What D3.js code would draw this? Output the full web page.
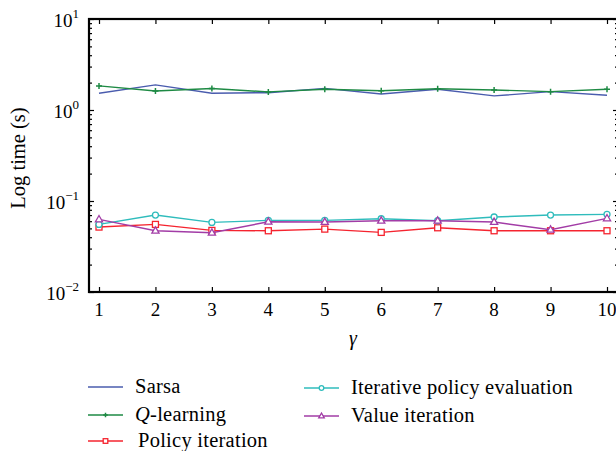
<!DOCTYPE html>
<html>
<head>
<meta charset="utf-8">
<script src="https://cdn.jsdelivr.net/npm/d3@7"></script>
<style>
body { margin: 0; background: white; }
</style>
</head>
<body>
<div id="canvas"></div>
<script>
"use strict"

let drawingWidth = 616;
let drawingHeight = 451;

// data
let gammas = [1, 2, 3, 4, 5, 6, 7, 8, 9, 10];
let sarsa = [1.53, 1.89, 1.53, 1.55, 1.73, 1.50, 1.69, 1.43, 1.59, 1.45];
let qLearning = [1.84, 1.62, 1.72, 1.58, 1.69, 1.63, 1.71, 1.66, 1.59, 1.69];
let policyIteration = [0.0517, 0.0553, 0.0475, 0.0471, 0.0491, 0.0452, 0.0508, 0.0471, 0.0471, 0.0471];
let policyEvaluation = [0.0553, 0.0701, 0.0582, 0.0612, 0.0612, 0.0638, 0.0607, 0.0667, 0.0701, 0.0713];
let valueIteration = [0.0628, 0.0471, 0.0448, 0.0591, 0.0587, 0.0607, 0.0607, 0.0587, 0.0483, 0.0644];
let yDecades = [-2, -1, 0, 1];

let series = [
    {name: "Sarsa", values: sarsa, color: "#4a5cae", marker: "none"},
    {name: "Q-learning", values: qLearning, color: "#1e8a44", marker: "plus"},
    {name: "Policy iteration", values: policyIteration, color: "#f5242f", marker: "square"},
    {name: "Iterative policy evaluation", values: policyEvaluation, color: "#2fbcbc", marker: "circle"},
    {name: "Value iteration", values: valueIteration, color: "#a23ca6", marker: "triangle"}
];

let font = "Liberation Serif, Times New Roman, serif";

let plotLeft = 89, plotRight = 618, plotTop = 19, plotBottom = 292;

let x = d3.scaleLinear().domain([1, 10]).range([99, 607]);
let y = d3.scaleLog().domain([0.01, 10]).range([plotBottom, plotTop]);

let drawing = d3.select("#canvas")
    .append("svg")
    .attr("width", drawingWidth)
    .attr("height", drawingHeight)
    .style("font-family", font);

// minor ticks for the log axis
let minorTicks = [];
yDecades.slice(0, 3).forEach(function(d) {
    for (let k = 2; k <= 9; k++) minorTicks.push(k * Math.pow(10, d));
});
let majorTicks = yDecades.map(d => Math.pow(10, d));

// y ticks, left and right, pointing inward
drawing.append("g")
    .attr("transform", "translate(" + plotLeft + ",0)")
    .call(d3.axisLeft(y).tickValues(majorTicks).tickSize(-5).tickFormat(""));
drawing.append("g")
    .attr("transform", "translate(" + plotLeft + ",0)")
    .call(d3.axisLeft(y).tickValues(minorTicks).tickSize(-3).tickFormat(""));
drawing.append("g")
    .attr("transform", "translate(" + plotRight + ",0)")
    .call(d3.axisRight(y).tickValues(majorTicks).tickSize(-5).tickFormat(""));
drawing.append("g")
    .attr("transform", "translate(" + plotRight + ",0)")
    .call(d3.axisRight(y).tickValues(minorTicks).tickSize(-3).tickFormat(""));

// x ticks, bottom and top
drawing.append("g")
    .attr("transform", "translate(0," + plotBottom + ")")
    .call(d3.axisBottom(x).tickValues(gammas).tickSize(-5).tickFormat(""));
drawing.append("g")
    .attr("transform", "translate(0," + plotTop + ")")
    .call(d3.axisTop(x).tickValues(gammas).tickSize(-5).tickFormat(""));

drawing.selectAll(".domain").remove();
drawing.selectAll(".tick line").attr("stroke", "black").attr("stroke-width", 1.2);

// frame
drawing.append("rect")
    .attr("x", plotLeft)
    .attr("y", plotTop)
    .attr("width", plotRight - plotLeft)
    .attr("height", plotBottom - plotTop)
    .attr("fill", "none")
    .attr("stroke", "black")
    .attr("stroke-width", 2.2);

// y tick labels 10^n
let yLabels = drawing.selectAll(".ylab")
    .data(yDecades)
    .enter()
    .append("text")
    .attr("x", 79)
    .attr("y", d => y(Math.pow(10, d)) + 8)
    .attr("text-anchor", "end")
    .attr("font-size", 19)
    .attr("fill", "black");
yLabels.append("tspan").text("10");
yLabels.append("tspan")
    .attr("dy", -9)
    .attr("font-size", 13)
    .text(d => d < 0 ? "\u2212" + (-d) : d);

// x tick labels
drawing.selectAll(".xlab")
    .data(gammas)
    .enter()
    .append("text")
    .attr("x", d => x(d))
    .attr("y", 316)
    .attr("text-anchor", "middle")
    .attr("font-size", 19)
    .attr("fill", "black")
    .text(d => d);

// axis titles
drawing.append("text")
    .attr("transform", "translate(25,158) rotate(-90)")
    .attr("text-anchor", "middle")
    .attr("font-size", 20.5)
    .attr("fill", "black")
    .text("Log time (s)");

drawing.append("text")
    .attr("x", 353)
    .attr("y", 345)
    .attr("text-anchor", "middle")
    .attr("font-size", 20)
    .attr("font-style", "italic")
    .attr("fill", "black")
    .text("\u03b3");

// markers
function drawMarker(g, kind, cx, cy, color, s) {
    if (kind == "plus") {
        g.append("path")
            .attr("d", "M" + (cx - s) + "," + cy + "h" + (2 * s) + "M" + cx + "," + (cy - s) + "v" + (2 * s))
            .attr("stroke", color)
            .attr("stroke-width", 1.5);
    } else if (kind == "square") {
        g.append("rect")
            .attr("x", cx - s)
            .attr("y", cy - s)
            .attr("width", 2 * s)
            .attr("height", 2 * s)
            .attr("fill", "white")
            .attr("stroke", color)
            .attr("stroke-width", 1.3);
    } else if (kind == "circle") {
        g.append("circle")
            .attr("cx", cx)
            .attr("cy", cy)
            .attr("r", s)
            .attr("fill", "white")
            .attr("stroke", color)
            .attr("stroke-width", 1.3);
    } else if (kind == "triangle") {
        g.append("path")
            .attr("d", "M" + cx + "," + (cy - 1.3 * s) + "L" + (cx + 1.2 * s) + "," + (cy + 0.8 * s) + "L" + (cx - 1.2 * s) + "," + (cy + 0.8 * s) + "Z")
            .attr("fill", "white")
            .attr("stroke", color)
            .attr("stroke-width", 1.3);
    }
}

let line = d3.line()
    .x((d, i) => x(gammas[i]))
    .y(d => y(d));

series.forEach(function(s) {
    let g = drawing.append("g");
    g.append("path")
        .attr("d", line(s.values))
        .attr("fill", "none")
        .attr("stroke", s.color)
        .attr("stroke-width", 1.4);
    s.values.forEach(function(v, i) {
        drawMarker(g, s.marker, x(gammas[i]), y(v), s.color, 3);
    });
});

// legend
let legendPos = [[88, 387], [88, 415], [88, 441], [304, 388], [304, 416]];
series.forEach(function(s, i) {
    let lx = legendPos[i][0], ly = legendPos[i][1];
    let g = drawing.append("g");
    g.append("line")
        .attr("x1", lx)
        .attr("x2", lx + 35)
        .attr("y1", ly)
        .attr("y2", ly)
        .attr("stroke", s.color)
        .attr("stroke-width", 1.5);
    drawMarker(g, s.marker, lx + 17.5, ly, s.color, 2.3);
    let t = g.append("text")
        .attr("x", lx + 47 + (s.marker == "square" ? 3 : 0))
        .attr("y", ly + 6)
        .attr("font-size", 20.5)
        .attr("letter-spacing", 0.25)
        .attr("fill", "black");
    if (s.name == "Q-learning") {
        t.append("tspan").attr("font-style", "italic").text("Q");
        t.append("tspan").text("-learning");
    } else {
        t.text(s.name);
    }
});
</script>
</body>
</html>
